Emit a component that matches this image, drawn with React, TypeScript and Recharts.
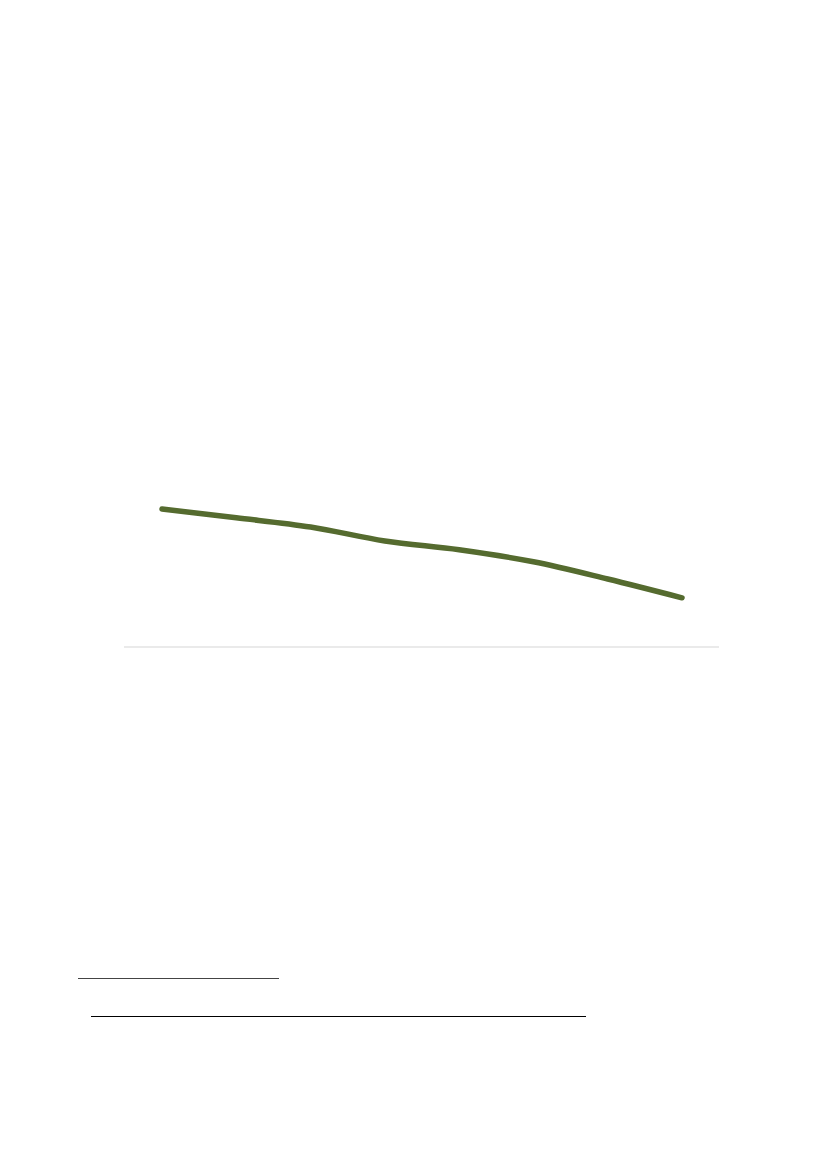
import { LineChart, Line, XAxis, YAxis } from 'recharts';

// 各期数值
const periods = ['1', '2', '3', '4', '5', '6', '7', '8'];
const values = [34.5, 32.3, 30, 26.5, 24.3, 21.3, 17, 12.3];

const data = periods.map((p, i) => ({ period: p, value: values[i] }));

export default function App() {
  return (
    <div style={{ position: 'absolute', left: 0, top: 0, width: 829, height: 1167, background: '#fff' }}>
      <LineChart
        width={829}
        height={700}
        data={data}
        margin={{ top: 247, right: 110, left: 124, bottom: 23 }}
      >
        <XAxis
          dataKey="period"
          height={30}
          tick={false}
          tickLine={false}
          axisLine={{ stroke: '#e3e3e3', strokeWidth: 1.5 }}
          padding={{ left: 38, right: 37 }}
        />
        <YAxis hide domain={[0, 100]} />
        <Line
          type="monotone"
          dataKey="value"
          stroke="#556b2f"
          strokeWidth={5.5}
          strokeLinecap="round"
          dot={false}
          isAnimationActive={false}
        />
      </LineChart>
      {/* 脚注分隔线 */}
      <div style={{ position: 'absolute', left: 78, top: 978, width: 201, height: 1, background: '#444' }} />
      <div style={{ position: 'absolute', left: 91, top: 1016, width: 495, height: 1, background: '#000' }} />
    </div>
  );
}
